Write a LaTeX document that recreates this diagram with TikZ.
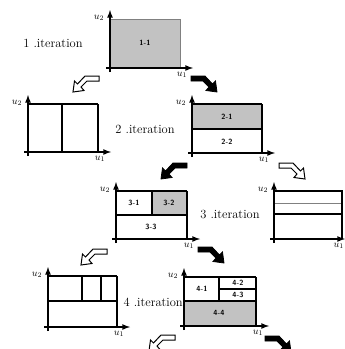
\documentclass[tikz,border=0pt]{standalone}
\usepackage{amsmath}
\usepackage{amssymb}
\usepackage{tikz}
\usetikzlibrary{arrows}
\usetikzlibrary{positioning}
\tikzset{>=latex}
\tikzset{
  axis/.style={line width=1.6pt},
  cellline/.style={line width=1.1pt},
  rightline/.style={line width=2.4pt},
  ulabel/.style={inner sep=0pt, font=\normalsize},
  cell/.style={inner sep=0pt, font=\sffamily\bfseries\fontsize{7.5}{8}\selectfont},
  itlabel/.style={inner sep=0pt, font=\fontsize{12.5}{14}\selectfont},
  hollow/.style={draw=black, fill=white, line width=1pt, line join=miter},
  solid/.style={draw=black, fill=black, line width=0.8pt}
}
\definecolor{cellgray}{gray}{0.76}
% #1 origin x, #2 origin y, #3 width, #4 height, #5 name prefix
\newcommand{\uaxes}[5]{
  \draw [axis,->] (#1-4,#2) -- (#1+#3+13,#2);
  \draw [axis,->] (#1,#2+4) -- (#1,#2-#4-9);
  \node [ulabel] (#5u2) at (#1-11,#2-#4-1) {$u_2$};
  \node [ulabel] (#5u1) at (#1+#3+2,#2+7) {$u_1$};
}
% #1 tip x, #2 tip y, #3 direction (1 left, -1 right), #4 style
\newcommand{\bentarrow}[4]{
  \draw [#4, shift={(#1,#2)}, xscale=#3]
    (0,0) -- (1.5,-11) -- (4.5,-8) -- (12,-16) -- (26,-16)
    -- (26,-11) -- (14,-11) -- (8,-5) -- (11,-1.5) -- cycle;
}

\begin{document}
\begin{tikzpicture}[x=1pt, y=-1pt]
  \useasboundingbox (0,0) rectangle (345,349);

  % 1. iteration
  \fill [cellgray] (110,19) rectangle (180,68);
  \draw [gray, line width=1pt] (110,19) -- (180,19) -- (180,68);
  \node [cell] (c11) at (145,43) {1-1};
  \uaxes{110}{68}{70}{49}{p1}
  \node [itlabel] (it1) at (53,43) {1 .iteration};

  % 2. iteration, left
  \draw [cellline] (28,104) -- (98,104);
  \draw [cellline] (62,104) -- (62,152);
  \draw [rightline] (98,104) -- (98,152);
  \uaxes{28}{152}{70}{48}{p2a}

  % 2. iteration, right
  \fill [cellgray] (192,104) rectangle (262,129);
  \draw [cellline] (192,104) -- (262,104);
  \draw [cellline] (192,129) -- (262,129);
  \draw [rightline] (262,104) -- (262,153);
  \node [cell] (c21) at (227,117) {2-1};
  \node [cell] (c22) at (227,142) {2-2};
  \uaxes{192}{153}{70}{49}{p2b}
  \node [itlabel] (it2) at (145,129) {2 .iteration};

  % 3. iteration, left
  \fill [cellgray] (152,191) rectangle (187,215);
  \draw [cellline] (116,191) -- (187,191);
  \draw [cellline] (116,215) -- (187,215);
  \draw [cellline] (152,191) -- (152,215);
  \draw [rightline] (187,191) -- (187,239);
  \node [cell] (c31) at (134,203) {3-1};
  \node [cell] (c32) at (169,203) {3-2};
  \node [cell] (c33) at (151,227) {3-3};
  \uaxes{116}{239}{71}{48}{p3a}
  \node [itlabel] (it3) at (230,214) {3 .iteration};

  % 3. iteration, right
  \draw [cellline] (274,191) -- (343,191);
  \draw [gray, line width=1pt] (274,203) -- (343,203);
  \draw [cellline] (274,214) -- (343,214);
  \draw [rightline] (342,191) -- (342,239);
  \draw [axis,->] (270,239) -- (345,239);
  \draw [axis,->] (274,243) -- (274,182);
  \node [ulabel] (p3bu2) at (263,190) {$u_2$};
  \node [ulabel, anchor=east] (p3bu1) at (344,246) {$u_1$};

  % 4. iteration, left
  \draw [cellline] (48,276) -- (117,276);
  \draw [cellline] (48,301) -- (117,301);
  \draw [cellline] (82,276) -- (82,301);
  \draw [cellline] (101,276) -- (101,301);
  \draw [cellline] (117,276) -- (117,327);
  \uaxes{48}{327}{69}{51}{p4a}
  \node [itlabel, anchor=east] (it4) at (183,302) {4 .iteration};

  % 4. iteration, right
  \fill [white] (184,277) rectangle (256,326);
  \fill [cellgray] (184,301) rectangle (256,326);
  \draw [cellline] (184,277) -- (256,277);
  \draw [cellline] (184,301) -- (256,301);
  \draw [cellline] (219,277) -- (219,301);
  \draw [cellline] (219,289) -- (256,289);
  \draw [rightline] (256,277) -- (256,326);
  \node [cell] (c41) at (202,289) {4-1};
  \node [cell] (c42) at (238,283) {4-2};
  \node [cell] (c43) at (238,295) {4-3};
  \node [cell] (c44) at (219,313) {4-4};
  \uaxes{184}{326}{72}{49}{p4b}

  % bent arrows
  \bentarrow{73}{92}{1}{hollow}
  \bentarrow{217}{92}{-1}{solid}
  \bentarrow{161}{179}{1}{solid}
  \bentarrow{305}{179}{-1}{hollow}
  \bentarrow{81}{265}{1}{hollow}
  \bentarrow{224}{263}{-1}{solid}
  \bentarrow{149}{351}{1}{hollow}
  \bentarrow{291}{352}{-1}{solid}
\end{tikzpicture}
\end{document}
